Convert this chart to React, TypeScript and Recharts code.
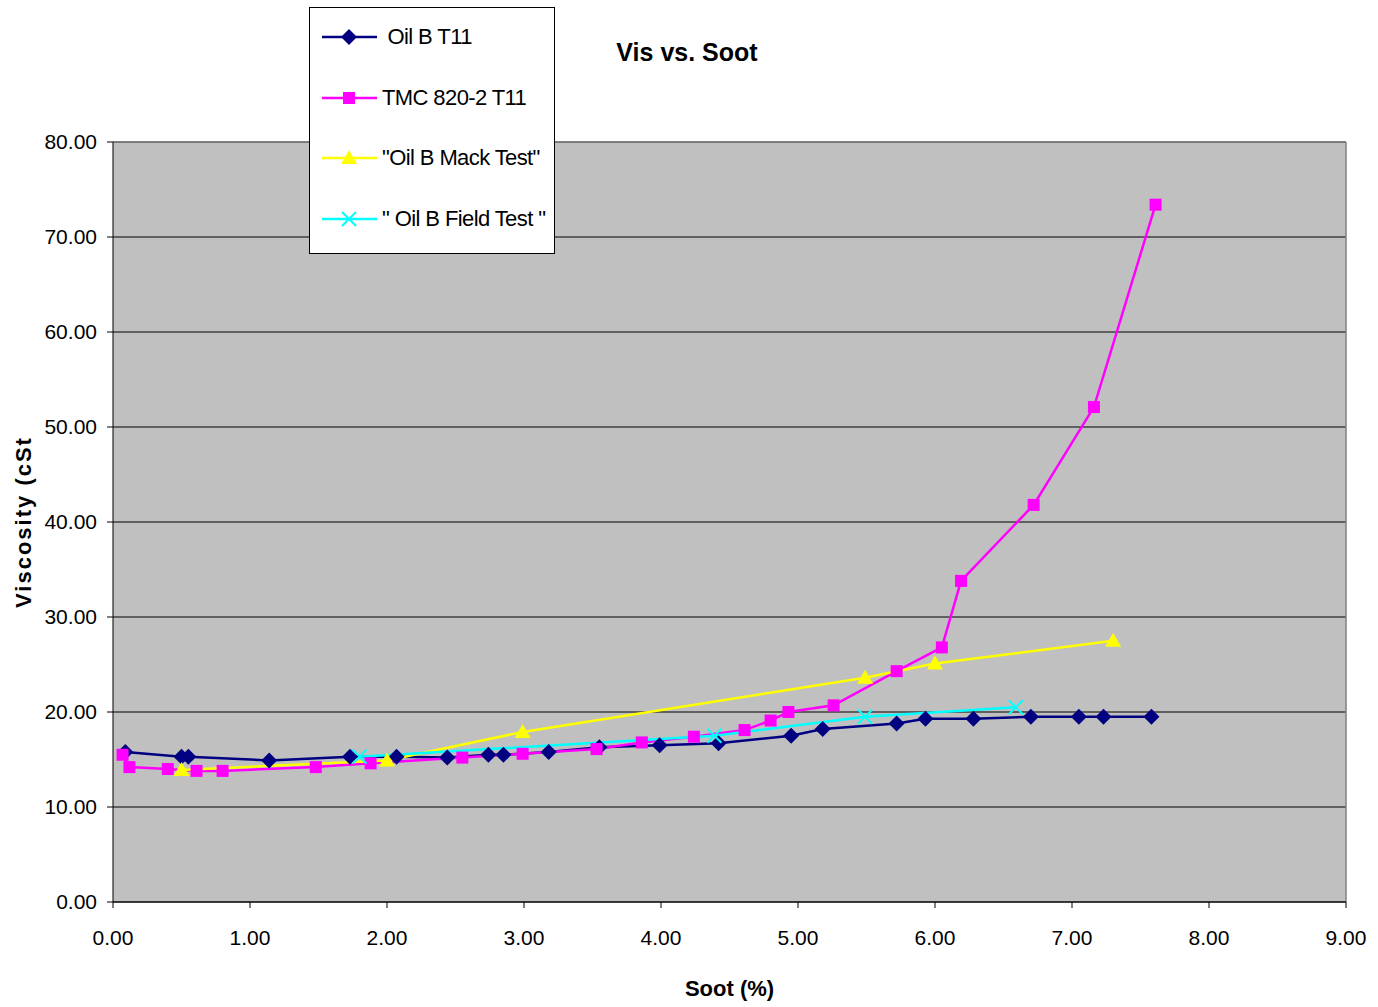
import { LineChart, Line, XAxis, YAxis, CartesianGrid, ReferenceLine, Label } from 'recharts';

// Soot (%) vs viscosity (cSt)
const oilBT11 = [
  { x: 0.09, y: 15.8 }, { x: 0.5, y: 15.3 }, { x: 0.55, y: 15.3 }, { x: 1.14, y: 14.9 },
  { x: 1.73, y: 15.3 }, { x: 2.07, y: 15.3 }, { x: 2.44, y: 15.2 }, { x: 2.74, y: 15.5 },
  { x: 2.85, y: 15.5 }, { x: 3.18, y: 15.8 }, { x: 3.55, y: 16.3 }, { x: 3.99, y: 16.5 },
  { x: 4.42, y: 16.7 }, { x: 4.95, y: 17.5 }, { x: 5.18, y: 18.2 }, { x: 5.72, y: 18.8 },
  { x: 5.93, y: 19.3 }, { x: 6.28, y: 19.3 }, { x: 6.7, y: 19.5 }, { x: 7.05, y: 19.5 },
  { x: 7.23, y: 19.5 }, { x: 7.58, y: 19.5 },
];

const tmc820 = [
  { x: 0.07, y: 15.5 }, { x: 0.12, y: 14.2 }, { x: 0.4, y: 14.0 }, { x: 0.61, y: 13.8 },
  { x: 0.8, y: 13.8 }, { x: 1.48, y: 14.2 }, { x: 1.88, y: 14.6 }, { x: 2.55, y: 15.2 },
  { x: 2.99, y: 15.6 }, { x: 3.53, y: 16.1 }, { x: 3.86, y: 16.8 }, { x: 4.24, y: 17.4 },
  { x: 4.61, y: 18.1 }, { x: 4.8, y: 19.1 }, { x: 4.93, y: 20.0 }, { x: 5.26, y: 20.7 },
  { x: 5.72, y: 24.3 }, { x: 6.05, y: 26.8 }, { x: 6.19, y: 33.8 }, { x: 6.72, y: 41.8 },
  { x: 7.16, y: 52.1 }, { x: 7.61, y: 73.4 },
];

const mackTest = [
  { x: 0.5, y: 13.9 }, { x: 2.0, y: 14.9 }, { x: 2.99, y: 17.9 },
  { x: 5.49, y: 23.6 }, { x: 6.0, y: 25.1 }, { x: 7.3, y: 27.5 },
];

const fieldTest = [
  { x: 1.8, y: 15.3 }, { x: 4.39, y: 17.5 }, { x: 5.49, y: 19.5 }, { x: 6.59, y: 20.5 },
];

const xTicks = [0, 1, 2, 3, 4, 5, 6, 7, 8, 9];
const yTicks = [0, 10, 20, 30, 40, 50, 60, 70, 80];

const seriesNames = [' Oil B T11', 'TMC 820-2 T11', '"Oil B Mack Test"', '" Oil B Field Test "'];
const seriesColors = ['#000080', '#FF00FF', '#FFFF00', '#00FFFF'];
const seriesShapes = ['diamond', 'square', 'triangle', 'x'];

const FONT = 'Liberation Sans, Arial, sans-serif';

function marker(shape: string, cx: number, cy: number, color: string, key?: any) {
  if (shape === 'diamond') {
    return <polygon key={key} points={`${cx},${cy - 8} ${cx + 8},${cy} ${cx},${cy + 8} ${cx - 8},${cy}`} fill={color} />;
  }
  if (shape === 'square') {
    return <rect key={key} x={cx - 6} y={cy - 6} width={12} height={12} fill={color} />;
  }
  if (shape === 'triangle') {
    return <polygon key={key} points={`${cx},${cy - 8} ${cx + 8},${cy + 6} ${cx - 8},${cy + 6}`} fill={color} />;
  }
  return (
    <g key={key} stroke={color} strokeWidth={2}>
      <line x1={cx - 7} y1={cy - 7} x2={cx + 7} y2={cy + 7} />
      <line x1={cx - 7} y1={cy + 7} x2={cx + 7} y2={cy - 7} />
    </g>
  );
}

const makeDot = (shape: string, color: string) => (props: any) => marker(shape, props.cx, props.cy, color, props.index);

function LegendBox() {
  const rows = [29, 90, 150, 211];
  return (
    <div
      style={{
        position: 'absolute',
        left: 309,
        top: 7,
        width: 244,
        height: 245,
        background: '#fff',
        border: '1px solid #000',
        fontFamily: FONT,
        fontSize: 22,
        letterSpacing: -0.6,
        color: '#000',
        zIndex: 3,
      }}
    >
      {seriesNames.map((name, i) => (
        <div key={name} style={{ position: 'absolute', left: 0, top: rows[i] - 20, height: 40, display: 'flex', alignItems: 'center' }}>
          <svg width={61} height={40} style={{ marginLeft: 10 }}>
            <line x1={2} y1={20} x2={57} y2={20} stroke={seriesColors[i]} strokeWidth={2.5} />
            {marker(seriesShapes[i], 29, 20, seriesColors[i])}
          </svg>
          <span style={{ whiteSpace: 'pre', marginLeft: 1 }}>{name}</span>
        </div>
      ))}
    </div>
  );
}

export default function App() {
  const all = [oilBT11, tmc820, mackTest, fieldTest];
  return (
    <div style={{ position: 'absolute', left: 0, top: 0, width: 1378, height: 1007, background: '#fff' }}>
      <div
        style={{
          position: 'absolute',
          left: 560,
          width: 254,
          top: 38,
          textAlign: 'center',
          fontFamily: FONT,
          fontWeight: 'bold',
          fontSize: 25,
          zIndex: 2,
        }}
      >
        Vis vs. Soot
      </div>
      <LegendBox />
      <LineChart width={1378} height={1007} margin={{ top: 142, right: 32, left: 53, bottom: 5 }}>
        <CartesianGrid fill="#C0C0C0" stroke="#000" strokeOpacity={1} vertical={false} />
        <XAxis
          type="number"
          dataKey="x"
          domain={[0, 9]}
          ticks={xTicks}
          height={100}
          tickFormatter={(v: number) => v.toFixed(2)}
          tick={{ fill: '#000', fontSize: 21, fontFamily: FONT }}
          tickSize={6}
          tickMargin={22}
          stroke="#000"
        >
          <Label value="Soot (%)" position="insideBottom" offset={6} style={{ fill: '#000', fontSize: 22, fontWeight: 'bold', fontFamily: FONT }} />
        </XAxis>
        <YAxis
          type="number"
          domain={[0, 80]}
          ticks={yTicks}
          width={60}
          tickFormatter={(v: number) => v.toFixed(2)}
          tick={{ fill: '#000', fontSize: 21, fontFamily: FONT }}
          tickSize={6}
          tickMargin={10}
          stroke="#000"
          interval={0}
        >
          <Label
            value="Viscosity (cSt"
            angle={-90}
            position="insideLeft"
            offset={0}
            dx={-30}
            style={{ fill: '#000', fontSize: 22, fontWeight: 'bold', fontFamily: FONT, letterSpacing: 2, textAnchor: 'middle' }}
          />
        </YAxis>
        <ReferenceLine x={9} stroke="#808080" strokeWidth={1.5} />
        <ReferenceLine y={80} stroke="#808080" strokeWidth={1.5} />
        {all.map((d, i) => (
          <Line
            key={seriesNames[i]}
            data={d}
            dataKey="y"
            name={seriesNames[i]}
            type="linear"
            stroke={seriesColors[i]}
            strokeWidth={2.5}
            dot={makeDot(seriesShapes[i], seriesColors[i])}
            activeDot={false}
            isAnimationActive={false}
          />
        ))}
      </LineChart>
    </div>
  );
}
